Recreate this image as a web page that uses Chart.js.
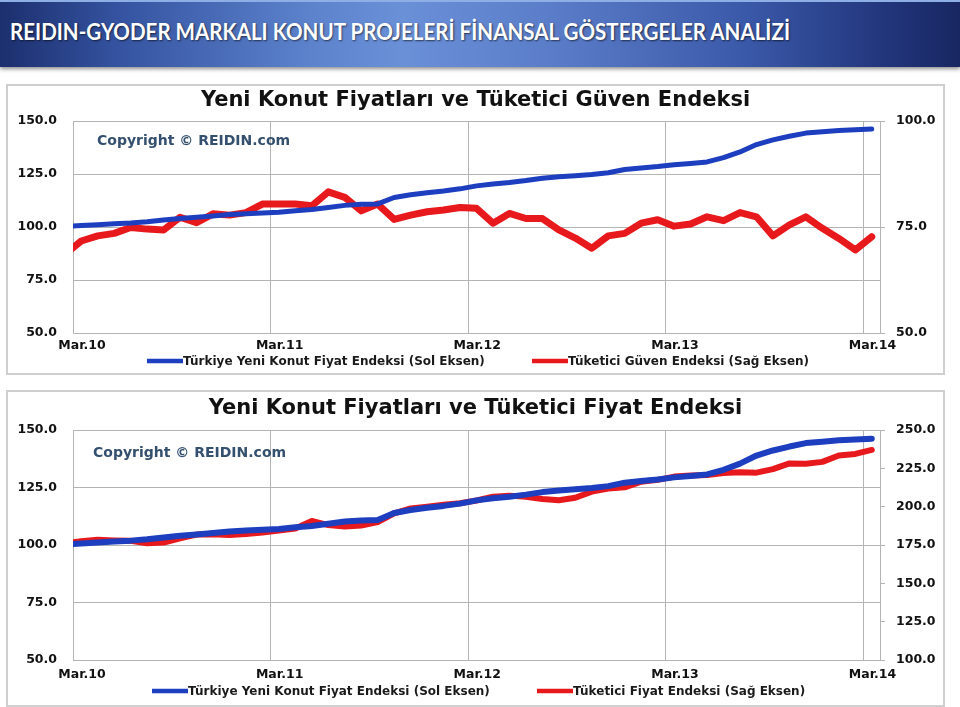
<!DOCTYPE html>
<html>
<head>
<meta charset="utf-8">
<script src="https://cdn.jsdelivr.net/npm/chart.js@4.4.0/dist/chart.umd.min.js"></script>
<style>
  body { margin: 0; width: 960px; height: 707px; background: #fff; overflow: hidden; position: relative; }
  .baslik {
    position: absolute; left: 0; top: 0; width: 960px; height: 67px;
    background: linear-gradient(90deg, #1c2f6e 0%, #34529f 12%, #5c82cc 32%, #6a90d8 42%, #5a7cc8 58%, #3a58a8 78%, #22367c 92%, #182762 100%);
    box-shadow: 0 2px 4px rgba(0,0,0,.45);
    border-top: 2px solid #8eaee6;
    box-sizing: border-box;
  }
  .baslik h1 {
    position: absolute; left: 10px; top: 15px; margin: 0;
    font: bold 23px Lato, sans-serif; color: #fff; white-space: nowrap;
    text-shadow: 1px 1px 2px rgba(0,0,0,.6);
    transform-origin: left center;
  }
  .cerceve { position: absolute; left: 6px; width: 939px; border: 2px solid #cfcfcf; box-sizing: border-box; background: #fff; }
  .cerceve canvas { display: block; }
</style>
</head>
<body>
<div class="baslik"><h1 id="baslikYazi">REIDIN-GYODER MARKALI KONUT PROJELERİ FİNANSAL GÖSTERGELER ANALİZİ</h1></div>
<div class="cerceve" style="top:84px;height:291px"><canvas id="grafik-guven" width="935" height="287"></canvas></div>
<div class="cerceve" style="top:390px;height:317px"><canvas id="grafik-tufe" width="935" height="313"></canvas></div>

<script>
// aylık veriler: Şub.10 .. Mar.14 (ay ortası), x = Mar.10 başından itibaren ay
const ilkAyKonumu = -0.5;
const xTickAylar = [0, 12, 24, 36, 48];
const xTickEtiketleri = ['Mar.10', 'Mar.11', 'Mar.12', 'Mar.13', 'Mar.14'];

const konutFiyatEndeksi = [
  100.2, 100.7, 101.1, 101.5, 101.9, 102.5, 103.3, 104.0, 104.6, 105.2,
  105.9, 106.3, 106.6, 107.0, 107.7, 108.3, 109.2, 110.2, 110.7, 110.9,
  113.9, 115.2, 116.2, 117.0, 118.0, 119.4, 120.3, 121.0, 121.9, 123.0,
  123.7, 124.2, 124.8, 125.6, 127.1, 127.8, 128.5, 129.4, 130.0, 130.7,
  132.7, 135.4, 138.9, 141.1, 142.8, 144.3, 144.9, 145.5, 145.9, 146.2
];
const tuketiciGuvenEndeksi = [
  68.5, 71.7, 72.9, 73.5, 74.9, 74.5, 74.3, 77.3, 76.0, 78.1,
  77.8, 78.4, 80.4, 80.4, 80.4, 80.0, 83.3, 82.0, 78.8, 80.4,
  76.8, 77.8, 78.6, 79.0, 79.6, 79.4, 75.9, 78.2, 77.0, 77.0,
  74.3, 72.4, 70.0, 72.9, 73.5, 75.9, 76.7, 75.2, 75.7, 77.4,
  76.5, 78.4, 77.4, 72.9, 75.5, 77.4, 74.7, 72.3, 69.6, 72.7
];
const tuketiciFiyatEndeksi = [
  176.0, 177.4, 178.5, 178.0, 177.7, 176.1, 176.6, 179.4, 181.8, 182.0,
  181.6, 182.2, 183.2, 184.5, 185.8, 190.7, 188.0, 187.0, 187.7, 189.9,
  195.7, 198.8, 200.0, 201.2, 202.2, 204.0, 206.5, 207.2, 206.5, 205.0,
  204.2, 205.8, 209.8, 211.8, 212.6, 216.3, 217.5, 219.6, 220.3, 220.7,
  221.9, 222.4, 222.2, 224.5, 228.2, 228.0, 229.2, 233.4, 234.4, 237.0
];

const MAVI = '#1c3ebf';
const KIRMIZI = '#e8191c';
const GRID = '#b4b4b4';
const FONT = '"DejaVu Sans", Verdana, sans-serif';

// başlık yazısını referans genişliğine sığdır
const h1 = document.getElementById('baslikYazi');
h1.style.transform = `scaleX(${780 / h1.getBoundingClientRect().width})`;

function noktalar(degerler) {
  return degerler.map((v, i) => ({ x: ilkAyKonumu + i, y: v }));
}

// telif yazısı + çizgi lejantı
const notlar = {
  id: 'notlar',
  afterDraw(chart, args, o) {
    const ctx = chart.ctx;
    ctx.save();
    ctx.textBaseline = 'middle';
    ctx.font = 'bold 14px ' + FONT;
    ctx.fillStyle = '#34506e';
    ctx.fillText('Copyright © REIDIN.com', o.telif[0], o.telif[1]);
    chart.data.datasets.forEach((ds, i) => {
      const x0 = o.lejantX[i];
      ctx.strokeStyle = ds.borderColor;
      ctx.lineWidth = 4.5;
      ctx.beginPath(); ctx.moveTo(x0, o.lejantY); ctx.lineTo(x0 + 36, o.lejantY); ctx.stroke();
      ctx.fillStyle = '#1a1a1a';
      ctx.font = 'bold 12px ' + FONT;
      ctx.fillText(ds.label, x0 + 36, o.lejantY + 1);
    });
    ctx.restore();
  }
};

function grafikCiz(id, cfg) {
  const tick = { color: '#111', font: { family: FONT, size: 12.5, weight: 'bold' } };
  return new Chart(document.getElementById(id), {
    type: 'line',
    data: {
      datasets: [
        { label: 'Türkiye Yeni Konut Fiyat Endeksi (Sol Eksen)', data: noktalar(konutFiyatEndeksi),
          yAxisID: 'y', borderColor: MAVI, backgroundColor: MAVI, borderWidth: cfg.maviKalinlik },
        { label: cfg.sagEtiket, data: noktalar(cfg.sagVeri),
          yAxisID: 'y1', borderColor: KIRMIZI, backgroundColor: KIRMIZI, borderWidth: cfg.kirmiziKalinlik }
      ]
    },
    options: {
      responsive: false, animation: false,
      layout: { padding: { left: 0, right: 0, top: 0, bottom: cfg.altBosluk } },
      elements: {
        point: { radius: 0 },
        line: { tension: 0, borderJoinStyle: 'round', borderCapStyle: 'round' }
      },
      datasets: { line: { clip: 0 } },
      plugins: {
        legend: { display: false },
        tooltip: { enabled: false },
        title: {
          display: true, text: cfg.baslik, color: '#111',
          font: { family: FONT, size: 21, weight: 'bold' },
          padding: cfg.baslikBosluk
        },
        notlar: { telif: cfg.telif, lejantX: cfg.lejantX, lejantY: cfg.lejantY }
      },
      scales: {
        x: {
          type: 'linear', min: 0, max: 49,
          afterBuildTicks: s => { s.ticks = xTickAylar.map(v => ({ value: v })); },
          afterFit: s => { s.height = 20; },
          grid: { color: GRID, drawTicks: false },
          border: { color: GRID },
          ticks: { ...tick, autoSkip: false, maxRotation: 0, padding: cfg.xBosluk, labelOffset: 9,
            callback: (v, i) => xTickEtiketleri[i] }
        },
        y: {
          position: 'left', min: 50, max: 150,
          afterFit: s => { s.width = 65; },
          grid: { color: GRID, drawTicks: false },
          border: { color: GRID },
          ticks: { ...tick, stepSize: 25, padding: 16, callback: v => v.toFixed(1) }
        },
        y1: {
          position: 'right', min: cfg.sagMin, max: cfg.sagMax,
          afterFit: s => { s.width = 63; },
          grid: { drawOnChartArea: false, color: GRID, tickLength: 5 },
          border: { color: GRID },
          ticks: { ...tick, stepSize: 25, padding: 11, callback: v => v.toFixed(1) }
        }
      }
    },
    plugins: [notlar]
  });
}

grafikCiz('grafik-guven', {
  baslik: 'Yeni Konut Fiyatları ve Tüketici Güven Endeksi',
  baslikBosluk: { top: 2.4, bottom: 7.4 },
  sagEtiket: 'Tüketici Güven Endeksi (Sağ Eksen)',
  sagVeri: tuketiciGuvenEndeksi, sagMin: 50, sagMax: 100,
  maviKalinlik: 5, kirmiziKalinlik: 7,
  altBosluk: 20, xBosluk: 5,
  telif: [89, 55], lejantX: [139, 524], lejantY: 275
});

grafikCiz('grafik-tufe', {
  baslik: 'Yeni Konut Fiyatları ve Tüketici Fiyat Endeksi',
  baslikBosluk: { top: 4.4, bottom: 8.4 },
  sagEtiket: 'Tüketici Fiyat Endeksi (Sağ Eksen)',
  sagVeri: tuketiciFiyatEndeksi, sagMin: 100, sagMax: 250,
  maviKalinlik: 6, kirmiziKalinlik: 6,
  altBosluk: 25, xBosluk: 7,
  telif: [85, 61], lejantX: [144, 529], lejantY: 299
});
</script>
</body>
</html>
